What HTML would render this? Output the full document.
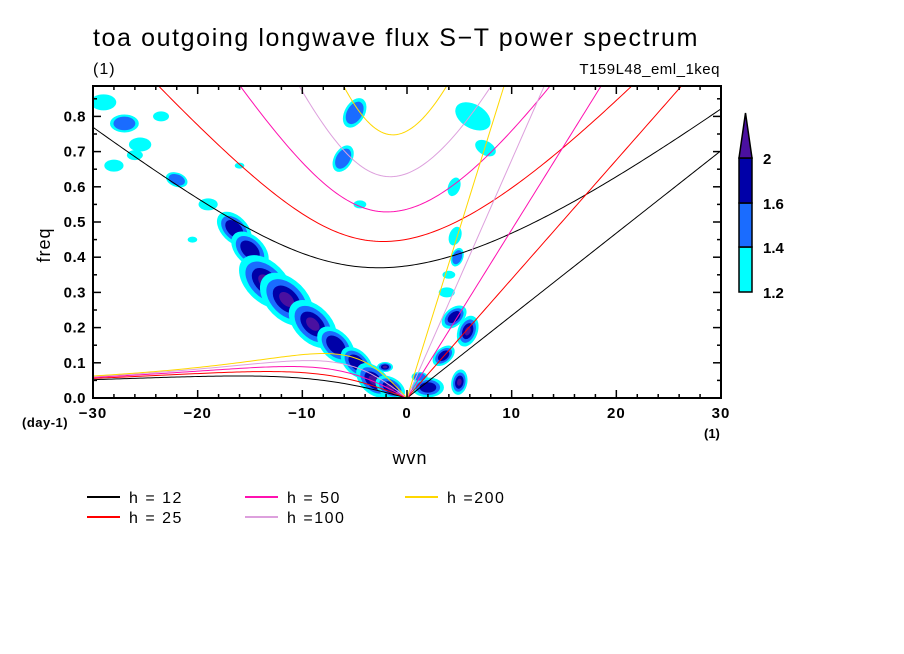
<!DOCTYPE html>
<html><head><meta charset="utf-8"><style>
body{margin:0;background:#fff}
svg{display:block;font-family:"Liberation Sans",sans-serif}
</style></head><body>
<svg id="c" width="904" height="654" viewBox="0 0 904 654">
<rect width="904" height="654" fill="#fff"/>
<text x="93" y="46" font-size="25" letter-spacing="1.6" textLength="606" lengthAdjust="spacing">toa outgoing longwave flux S−T power spectrum</text>
<text x="93" y="74" font-size="16" letter-spacing="1">(1)</text>
<text x="720" y="74" font-size="15" text-anchor="end" letter-spacing="0.5">T159L48_eml_1keq</text>
<text x="0" y="0" font-size="18" letter-spacing="1" transform="translate(50,245) rotate(-90)" text-anchor="middle">freq</text>
<text x="410" y="464" font-size="18" letter-spacing="1" text-anchor="middle">wvn</text>
<text x="22" y="427" font-size="13" font-weight="bold" letter-spacing="0.5">(day-1)</text>
<text x="704" y="438" font-size="13" font-weight="bold">(1)</text>
<defs><clipPath id="pc"><rect x="93" y="86" width="628" height="312"/></clipPath></defs>
<g id="blobs" clip-path="url(#pc)"></g>
<g id="curves" clip-path="url(#pc)"></g>
<g id="axes"></g>
<g id="cbar"></g>
<g id="legend"></g>
</svg>
<script>
const kTicks=[-30,-20,-10,0,10,20,30];
const fTicks=[0.0,0.1,0.2,0.3,0.4,0.5,0.6,0.7,0.8];
const depths=[12,25,50,100,200];
const depthColors=["#000000","#ff0000","#ff10b0","#dda0dd","#ffd700"];
const cbLevels=[1.2,1.4,1.6,2];
const levelColors=["#00ffff","#1a6cff","#0000a8","#4a10a0"];
// blobs: wavenumber, frequency, size, peak level (1..4), angle
const blobK=[-16.5,-15,-13.5,-11.5,-9,-6.8,-4.8,-3.2,-1.6,-2.1,-29,-27,-25.5,-22,-19,-26,-28,-20.5,-5,-6.1,-4.5,6.3,7.5,4.5,4.6,4.8,4,3.8,5.8,4.5,3.5,2,5,1.2,-23.5,-16];
const blobF=[0.48,0.42,0.33,0.28,0.21,0.15,0.10,0.05,0.03,0.088,0.84,0.78,0.72,0.62,0.55,0.69,0.66,0.45,0.81,0.68,0.55,0.80,0.71,0.60,0.46,0.40,0.35,0.30,0.19,0.23,0.12,0.03,0.045,0.06,0.80,0.66];
const blobS=[13,14,20,20,18,14,12,13,10,5,8,9,7,7,6,5,6,3,10,9,4,12,7,6,6,6,4,5,10,9,8,10,8,5,5,3];
const blobL=[3,3,4,4,4,3,3,4,4,4,1,2,1,2,1,1,1,1,2,2,1,1,1,1,1,2,1,1,4,3,3,3,4,2,1,1];
const blobA=[45,45,45,45,45,45,45,45,30,0,0,0,0,20,0,0,0,0,-60,-60,0,30,30,-70,-70,-70,0,0,-70,-40,-40,0,-80,0,0,0];

const NS="http://www.w3.org/2000/svg";
const X=k=>93+(k+30)*628/60;
const Y=f=>398-f*352;
function mk(t,a,p){const e=document.createElementNS(NS,t);for(const q in a)e.setAttribute(q,a[q]);p.appendChild(e);return e;}

const bg=document.getElementById('blobs');
for(let i=0;i<blobK.length;i++){
  for(let l=0;l<blobL[i];l++){
    const s=blobS[i]*(1-l*0.24);
    const e=mk('ellipse',{cx:X(blobK[i]),cy:Y(blobF[i]),rx:s*1.6,ry:s,fill:levelColors[l],
      transform:`rotate(${blobA[i]} ${X(blobK[i])} ${Y(blobF[i])})`},bg);
    
    
  }
}

const a=6.371e6,beta=2.29e-11,g=9.81,cpd=86400/(2*Math.PI);
const cg=document.getElementById('curves');
depths.forEach((h,j)=>{
  const c=Math.sqrt(g*h);
  let ig=[],er=[],kv=[];
  for(let s=-30;s<=30.001;s+=0.25){
    const kk=s/a;
    let w=Math.sqrt(3*beta*c+kk*kk*c*c);
    for(let it=0;it<30;it++){w=Math.sqrt(Math.max(1e-14,3*beta*c+kk*kk*c*c+kk*beta*c*c/w));}
    ig.push(X(s)+','+Y(w*cpd));
    if(s<=0){const we=-beta*kk/(kk*kk+3*beta/c);er.push(X(s)+','+Y(we*cpd));}
    if(s>=0){kv.push(X(s)+','+Y(kk*c*cpd));}
  }
  [['ig',ig],['er',er],['kelvin',kv]].forEach(([n,p])=>{
    const e=mk('polyline',{points:p.join(' '),fill:'none',stroke:depthColors[j],'stroke-width':1},cg);
    
    
  });
});

const ax=document.getElementById('axes');
const fr=mk('rect',{x:93,y:86,width:628,height:312,fill:'none',stroke:'#000','stroke-width':2},ax);


for(let k=-30;k<=30;k+=2){
  const L=(k%10===0)?8:4;
  mk('line',{x1:X(k),x2:X(k),y1:398,y2:398-L,stroke:'#000','stroke-width':1.5},ax);
  mk('line',{x1:X(k),x2:X(k),y1:86,y2:86+L,stroke:'#000','stroke-width':1.5},ax);
}
for(let f=0;f<=0.88;f+=0.05){
  const L=(Math.round(f*100)%10===0)?8:4;
  mk('line',{x1:93,x2:93+L,y1:Y(f),y2:Y(f),stroke:'#000','stroke-width':1.5},ax);
  mk('line',{x1:721,x2:721-L,y1:Y(f),y2:Y(f),stroke:'#000','stroke-width':1.5},ax);
}
kTicks.forEach(k=>{
  const t=mk('text',{x:X(k),y:418,'font-size':15,'font-weight':'bold','letter-spacing':1,'text-anchor':'middle'},ax);
  t.textContent=(k<0?'−':'')+Math.abs(k);
  
  
});
fTicks.forEach(f=>{
  const t=mk('text',{x:86,y:Y(f)+5,'font-size':15,'font-weight':'bold','letter-spacing':0.5,'text-anchor':'end'},ax);
  t.textContent=f.toFixed(1);
  
  
});

const cb=document.getElementById('cbar');
const cbY=[292,247,203,158];
for(let i=0;i<3;i++){
  const r=mk('rect',{x:739,y:cbY[i+1],width:13,height:cbY[i]-cbY[i+1],fill:levelColors[i],stroke:'#000','stroke-width':1.5},cb);
  
  
}
const tri=mk('polygon',{points:'739,158 752,158 745.5,113',fill:levelColors[3],stroke:'#000','stroke-width':1.5},cb);


cbLevels.forEach((v,i)=>{
  const t=mk('text',{x:763,y:cbY[i]+6,'font-size':15,'font-weight':'bold'},cb);
  t.textContent=String(v);
  
  
});

const lg=document.getElementById('legend');
const legX=[87,87,245,245,405],legY=[497,517,497,517,497];
const legT=['h = 12','h = 25','h = 50','h =100','h =200'];
depths.forEach((h,j)=>{
  const l=mk('line',{x1:legX[j],x2:legX[j]+33,y1:legY[j],y2:legY[j],stroke:depthColors[j],'stroke-width':2},lg);
  
  
  const t=mk('text',{x:legX[j]+42,y:legY[j]+6,'font-size':16,'letter-spacing':1.5},lg);
  t.textContent=legT[j];
  
  
});
</script>
</body></html>
